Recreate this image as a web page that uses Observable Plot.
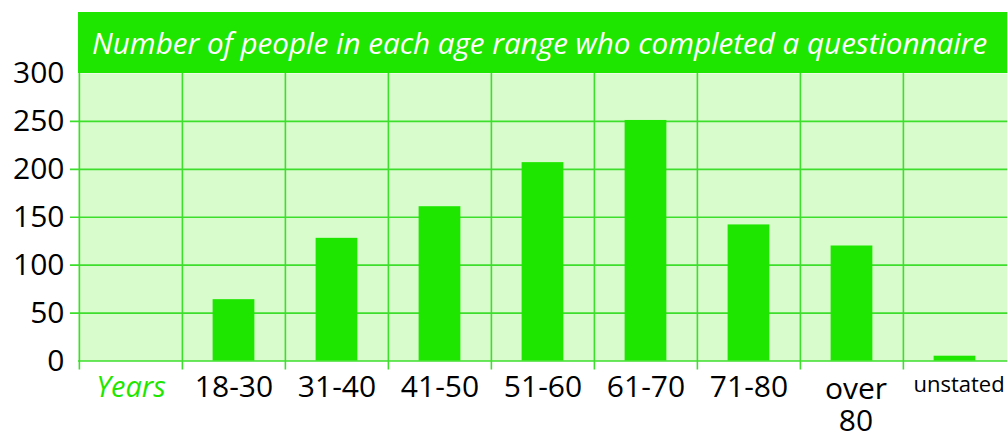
<!DOCTYPE html>
<html>
<head>
<meta charset="utf-8">
<script src="https://cdn.jsdelivr.net/npm/d3@7"></script>
<script src="https://cdn.jsdelivr.net/npm/@observablehq/plot@0.6"></script>
<style>
  html, body { margin: 0; padding: 0; background: white; }
  #wrap { position: relative; width: 1007px; height: 431px; overflow: hidden; }
  #header {
    position: absolute; left: 78px; top: 12px; width: 929px; height: 61px;
    background: #1fe600; color: white; font-family: "Open Sans", sans-serif;
    font-style: italic; font-size: 29.6px; line-height: 61px; padding-left: 14px;
    box-sizing: border-box; white-space: nowrap;
  }
</style>
</head>
<body>
<div id="wrap">
  <div id="chart"></div>
  <div id="header">Number of people in each age range who completed a questionnaire</div>
</div>
<script>
const axisTitle = "Years";
const categories = ["18-30", "31-40", "41-50", "51-60", "61-70", "71-80", "over 80", "unstated"];
const counts = [64, 128, 161, 207, 251, 142, 120, 5];
const yTicks = [0, 50, 100, 150, 200, 250, 300];
const gridValues = [50, 100, 150, 200, 250];

const data = categories.map((c, i) => ({category: c, count: counts[i]}));
const domainX = [axisTitle, ...categories];

const W = 1007, H = 431, mL = 78, mR = 0, mT = 73, mB = 70.5;
const bw = (W - mL - mR) / domainX.length;
const green = "#1fe600";
const grid = "#3ddf2c";
const font = "'Open Sans', sans-serif";

const plot = Plot.plot({
  width: W, height: H,
  marginLeft: mL, marginRight: mR, marginTop: mT, marginBottom: mB,
  style: {fontFamily: font, fontSize: "30px", color: "black", background: "white", overflow: "visible"},
  x: {domain: domainX, padding: 0, axis: null},
  y: {domain: [0, 300], ticks: yTicks, tickSize: 0, tickPadding: 14, label: null},
  marks: [
    Plot.frame({fill: "#d9fccc", stroke: null}),
    Plot.ruleY(gridValues, {stroke: grid, strokeWidth: 1.6, insetLeft: -8}),
    Plot.ruleX(domainX, {stroke: grid, strokeWidth: 1.6, dx: -bw / 2, insetBottom: -9}),
    Plot.ruleY([0], {stroke: grid, strokeWidth: 1.6}),
    Plot.barY(data, {x: "category", y: "count", fill: green, insetLeft: (bw - 42) / 2, insetRight: (bw - 42) / 2}),
    Plot.text([axisTitle], {x: d => d, text: d => d, frameAnchor: "bottom", lineAnchor: "top", dy: 15,
      fill: green, fontStyle: "italic", fontSize: 29}),
    Plot.text(categories.filter(c => c !== "unstated" && c !== "over 80"), {x: d => d, text: d => d,
      frameAnchor: "bottom", lineAnchor: "top", dy: 15, fill: "black", fontSize: 30}),
    Plot.text(categories.filter(c => c === "over 80"), {x: d => d, text: d => d.replace(" ", "\n"),
      frameAnchor: "bottom", lineAnchor: "top", dy: 15, dx: 4, fill: "black", fontSize: 30, lineHeight: 1.07}),
    Plot.text(categories.filter(c => c === "unstated"), {x: d => d, text: d => d,
      frameAnchor: "bottom", lineAnchor: "top", dy: 15, dx: 4, fill: "black", fontSize: 22})
  ]
});
document.getElementById("chart").appendChild(plot);
</script>
</body>
</html>
